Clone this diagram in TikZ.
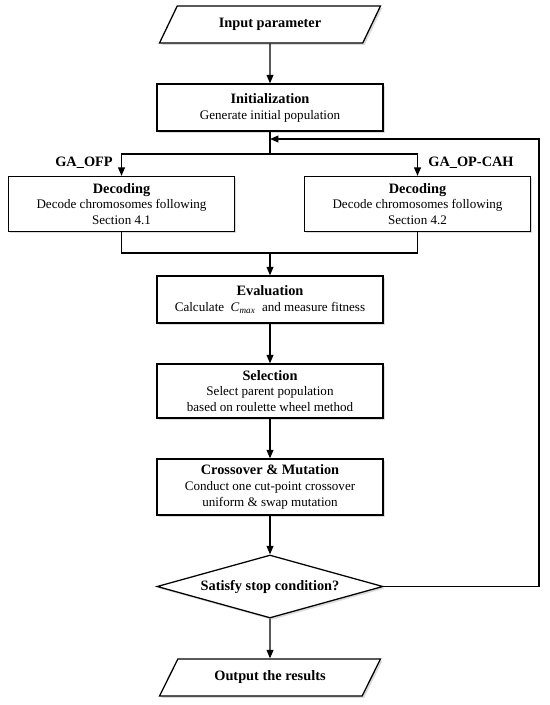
\documentclass[tikz,border=0pt]{standalone}
\usepackage{fontspec}
\setmainfont{Liberation Serif}
\usepackage{tikz}
\usetikzlibrary{shapes.geometric, arrows.meta, positioning, calc, shadows}
\newcommand{\hd}[1]{{\fontsize{10.2}{11.3}\selectfont\bfseries #1}}
\tikzset{
    boxshadow/.style={drop shadow={shadow xshift=1.4pt, shadow yshift=-1.4pt, fill=black!28}},
    procbox/.style={draw, rectangle, line width=0.9pt, fill=white, boxshadow, minimum width=5.65cm, minimum height=1.175cm, align=center, inner sep=1pt, font=\fontsize{9.3}{11.3}\selectfont},
    iobox/.style={draw, trapezium, trapezium left angle=40.7, trapezium right angle=139.3, trapezium stretches body, line width=0.9pt, fill=white, boxshadow, minimum width=5.525cm, minimum height=0.925cm, inner sep=1pt, font=\fontsize{10.2}{11.3}\selectfont\bfseries},
    decision/.style={draw, diamond, aspect=3.59, line width=0.9pt, fill=white, boxshadow, minimum width=5.65cm, minimum height=1.575cm, inner sep=0pt, font=\fontsize{10.2}{11.3}\selectfont\bfseries},
    branchlabel/.style={font=\fontsize{10.2}{11.3}\selectfont\bfseries},
    flowline/.style={line width=0.9pt},
    flowarrow/.style={flowline, -{Triangle[length=2.1mm, width=1.7mm]}},
}
\begin{document}
\begin{tikzpicture}
    \useasboundingbox (0, 0) rectangle (13.75, -17.625);

    % === main column ===
    \node[iobox] (in) at (6.75, -0.6125) {Input parameter};
    \node[procbox] (init) at (6.75, -2.6875) {\hd{Initialization}\\Generate initial population};

    % split point and loop entry
    \coordinate (loop) at (6.75, -3.475);
    \coordinate (split) at (6.75, -3.85);

    % === decoding variants ===
    \node[procbox, minimum height=1.375cm] (decL) at (3.0375, -5.1) {\hd{Decoding}\\Decode chromosomes following\\Section 4.1};
    \node[procbox, minimum height=1.375cm] (decR) at (10.4375, -5.1) {\hd{Decoding}\\Decode chromosomes following\\Section 4.2};
    \node[branchlabel] (lblofp) at (2.1, -4.075) {GA\_OFP};
    \node[branchlabel] (lblcah) at (11.775, -4.075) {GA\_OP-CAH};
    \coordinate (join) at (6.75, -6.325);

    % === GA loop ===
    \node[procbox] (eval) at (6.75, -7.4875) {\hd{Evaluation}\\Calculate\ \ \textit{C}\textsubscript{\textit{max}}\ \ and measure fitness};
    \node[procbox, minimum height=1.35cm] (sel) at (6.75, -9.775) {\hd{Selection}\\Select parent population\\based on roulette wheel method};
    \node[procbox, minimum height=1.4cm] (cross) at (6.75, -12.175) {\hd{Crossover \& Mutation}\\Conduct one cut-point crossover\\uniform \& swap mutation};
    \node[decision] (dia) at (6.75, -14.6625) {Satisfy stop condition?};
    \node[iobox] (out) at (6.75, -16.9375) {Output the results};
    \coordinate (fb) at (13.475, -3.475);

    % connectors
    \draw[flowarrow] (in) -- (init);
    \draw[flowline] (init) -- (split);
    \draw[flowarrow] (split) -| (decL.north);
    \draw[flowarrow] (split) -| (decR.north);
    \draw[flowline] (decL.south) |- (join);
    \draw[flowline] (decR.south) |- (join);
    \draw[flowarrow] (join) -- (eval);
    \draw[flowarrow] (eval) -- (sel);
    \draw[flowarrow] (sel) -- (cross);
    \draw[flowarrow] (cross) -- (dia);
    \draw[flowarrow] (dia) -- (out);
    \draw[flowarrow] (dia.east) -| (fb) -- (loop);
\end{tikzpicture}
\end{document}
